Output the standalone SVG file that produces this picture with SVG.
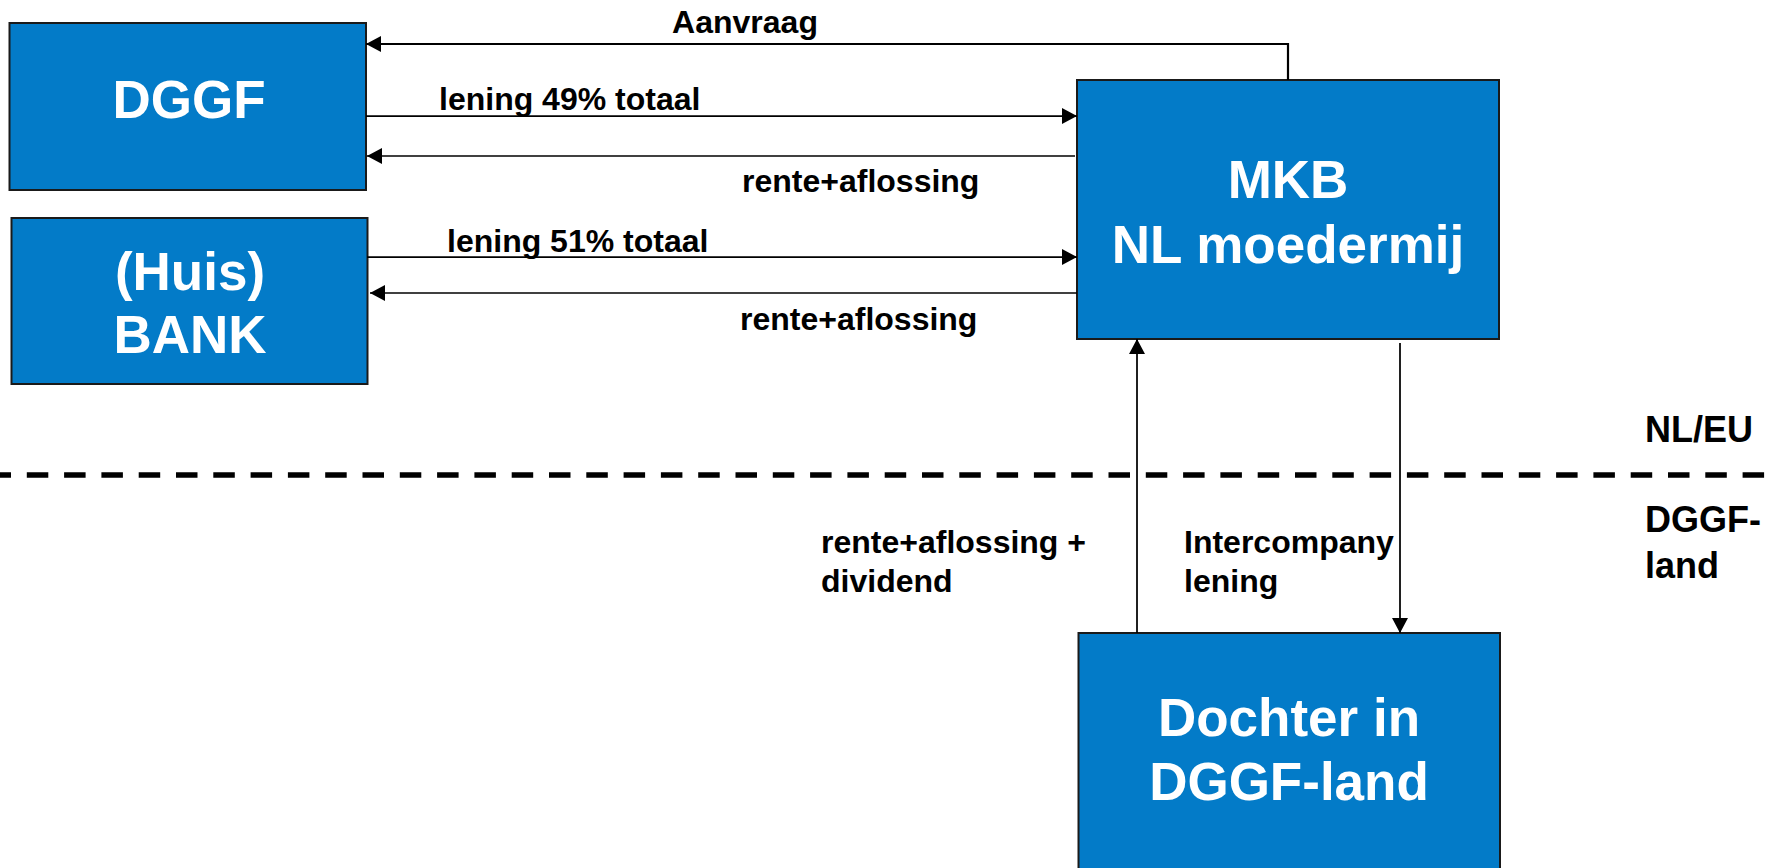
<svg xmlns="http://www.w3.org/2000/svg" width="1773" height="868" viewBox="0 0 1773 868">
<defs>
<style>
.box{fill:#037BC8;stroke:#1a1a1a;stroke-width:2}
.big{font-family:"Liberation Sans",Arial,sans-serif;font-weight:bold;font-size:53px;fill:#fff;text-anchor:middle}
.lbl{font-family:"Liberation Sans",Arial,sans-serif;font-weight:bold;font-size:32px;fill:#000}
.side{font-family:"Liberation Sans",Arial,sans-serif;font-weight:bold;font-size:36px;fill:#000}
.c{fill:none;stroke:#000;stroke-width:1.75}
.thick{stroke-width:2.2}
.thin{stroke-width:1.5}
</style>
<marker id="ah" markerUnits="userSpaceOnUse" markerWidth="16" markerHeight="16" refX="15" refY="8" orient="auto">
<path d="M0,0 L15,8 L0,16 Z" fill="#000"/>
</marker>
</defs>
<rect width="1773" height="868" fill="#fff"/>

<g id="node-dggf">
<rect class="box" x="9.5" y="23" width="356.5" height="167"/>
<text class="big" x="189" y="118">DGGF</text>
</g>
<g id="node-bank">
<rect class="box" x="11.5" y="218" width="356" height="166"/>
<text class="big" x="190" y="290">(Huis)</text>
<text class="big" x="190" y="353">BANK</text>
</g>
<g id="node-mkb">
<rect class="box" x="1077" y="80" width="422" height="259"/>
<text class="big" x="1288" y="198">MKB</text>
<text class="big" x="1288" y="263">NL moedermij</text>
</g>
<g id="node-dochter">
<rect class="box" x="1078.5" y="633" width="421.5" height="250"/>
<text class="big" x="1289" y="736">Dochter in</text>
<text class="big" x="1289" y="800">DGGF-land</text>
</g>

<g id="connectors">
<path class="c thick" d="M1288,80 V44 H366" marker-end="url(#ah)"/>
<path class="c" d="M366,116 H1077" marker-end="url(#ah)"/>
<path class="c thin" d="M1075,156 H367" marker-end="url(#ah)"/>
<path class="c" d="M367,257 H1077" marker-end="url(#ah)"/>
<path class="c thin" d="M1077,293 H370" marker-end="url(#ah)"/>
<path class="c" d="M1137,633 V339" marker-end="url(#ah)"/>
<path class="c" d="M1400,343 V633" marker-end="url(#ah)"/>
</g>

<g id="labels">
<text class="lbl" x="745" y="33" text-anchor="middle">Aanvraag</text>
<text class="lbl" x="439" y="110">lening 49% totaal</text>
<text class="lbl" x="742" y="192">rente+aflossing</text>
<text class="lbl" x="447" y="252">lening 51% totaal</text>
<text class="lbl" x="740" y="330">rente+aflossing</text>
<text class="lbl" x="821" y="553">rente+aflossing +</text>
<text class="lbl" x="821" y="592">dividend</text>
<text class="lbl" x="1184" y="553">Intercompany</text>
<text class="lbl" x="1184" y="592">lening</text>
</g>

<g id="region-divider">
<line x1="0" y1="475" x2="1773" y2="475" stroke="#000" stroke-width="5.5" stroke-dasharray="21.5 15.8" stroke-dashoffset="10.5"/>
<text class="side" x="1645" y="442">NL/EU</text>
<text class="side" x="1645" y="532">DGGF-</text>
<text class="side" x="1645" y="578">land</text>
</g>
</svg>
